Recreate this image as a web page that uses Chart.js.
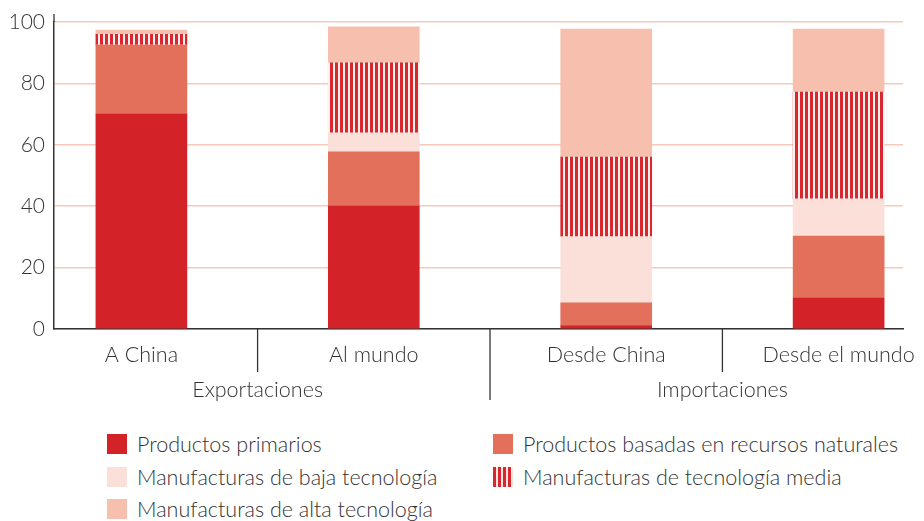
<!DOCTYPE html>
<html>
<head>
<meta charset="utf-8">
<title>Exportaciones e importaciones por intensidad tecnológica</title>
<script src="https://cdn.jsdelivr.net/npm/chart.js@4.4.0/dist/chart.umd.min.js"></script>
<style>
  body { margin: 0; background: #fff; font-family: Lato, "Open Sans", sans-serif; }
  #wrap { position: relative; width: 924px; height: 521px; overflow: hidden; }
  #chartBox { position: absolute; left: 0; top: 0; width: 924px; height: 420px; }
  #legend {
    position: absolute; left: 107px; top: 428px;
    display: grid; grid-template-columns: 386px 420px; grid-auto-rows: 32.5px;
    color: #333; font-size: 21.5px; font-weight: 300;
  }
  .item { display: flex; align-items: center; white-space: nowrap; }
  .box { width: 20px; height: 20px; margin-right: 10px; flex: none; }
</style>
</head>
<body>
<div id="wrap">
  <div id="chartBox"><canvas id="myChart"></canvas></div>
  <div id="legend"></div>
</div>
<script>
// categories and groups
const categories = ["A China", "Al mundo", "Desde China", "Desde el mundo"];
const groups = ["Exportaciones", "Importaciones"];
const groupSizes = [2, 2];

// series (percent of total)
const seriesNames = [
  "Productos primarios",
  "Productos basadas en recursos naturales",
  "Manufacturas de baja tecnología",
  "Manufacturas de tecnología media",
  "Manufacturas de alta tecnología"
];
const primarios = [70.0, 40.0, 1.0, 10.1];
const recursosNaturales = [22.5, 17.7, 7.5, 20.2];
const bajaTec = [0, 6.2, 21.6, 12.1];
const mediaTec = [3.5, 22.8, 25.9, 34.8];
const altaTec = [1.4, 11.7, 41.7, 20.5];

const yTicks = [0, 20, 40, 60, 80, 100];

const colors = ["#d42229", "#e2705a", "#fbe0d9", "hatch", "#f6bfae"];
const hatchRed = "#d9262f";
const labelFont = "Lato, 'Open Sans', sans-serif";

function makeHatch() {
  const c = document.createElement("canvas");
  c.width = 5; c.height = 10;
  const g = c.getContext("2d");
  g.fillStyle = "#fdf1ee";
  g.fillRect(0, 0, 5, 10);
  g.fillStyle = hatchRed;
  g.fillRect(0, 0, 3, 10);
  return g.createPattern(c, "repeat");
}

const hatch = makeHatch();
const allSeries = [primarios, recursosNaturales, bajaTec, mediaTec, altaTec];

const datasets = allSeries.map((vals, s) => ({
  label: seriesNames[s],
  data: vals.map((v, i) => ({ x: i, y: v })),
  backgroundColor: colors[s] === "hatch" ? hatch : colors[s],
  borderWidth: 0,
  barThickness: 91
}));

// dividers under the category axis + group labels
const groupPlugin = {
  id: "groupLabels",
  afterDraw(chart) {
    const { ctx, scales: { x, y } } = chart;
    const base = y.getPixelForValue(0);
    ctx.save();
    ctx.strokeStyle = "#333";
    ctx.lineWidth = 1.3;
    // axis stub above 100
    ctx.beginPath();
    ctx.moveTo(x.left, chart.chartArea.top - 8);
    ctx.lineTo(x.left, chart.chartArea.top);
    ctx.stroke();
    let start = 0;
    groupSizes.forEach((n, gi) => {
      for (let k = 1; k < n; k++) {
        const px = x.getPixelForValue(start + k - 0.5);
        ctx.beginPath();
        ctx.moveTo(px, base);
        ctx.lineTo(px, base + 43);
        ctx.stroke();
      }
      if (gi < groupSizes.length - 1) {
        const px = x.getPixelForValue(start + n - 0.5);
        ctx.beginPath();
        ctx.moveTo(px, base);
        ctx.lineTo(px, base + 71);
        ctx.stroke();
      }
      ctx.fillStyle = "#333";
      ctx.font = "300 21.5px " + labelFont;
      ctx.textAlign = "center";
      ctx.textBaseline = "middle";
      ctx.fillText(groups[gi], x.getPixelForValue(start + (n - 1) / 2), base + 61);
      start += n;
    });
    ctx.restore();
  }
};

const ctx = document.getElementById("myChart").getContext("2d");
window.myChart = new Chart(ctx, {
  type: "bar",
  data: { datasets: datasets },
  options: {
    responsive: true,
    maintainAspectRatio: false,
    animation: false,
    layout: { padding: { top: 22, right: 21, left: 0, bottom: 0 } },
    plugins: {
      legend: { display: false },
      tooltip: { enabled: false }
    },
    scales: {
      x: {
        type: "linear",
        stacked: true,
        offset: false,
        min: -0.376,
        max: 3.277,
        afterBuildTicks: (scale) => { scale.ticks = categories.map((c, i) => ({ value: i })); },
        afterFit: (scale) => {
          scale.height = 91;
          // let the last label hang past the plot edge, as in the original
          scale.paddingLeft = 0;
          scale.paddingRight = 0;
        },
        grid: { display: false, drawTicks: false, offset: false },
        border: { display: true, color: "#333", width: 1.5 },
        ticks: {
          padding: 13,
          maxRotation: 0,
          autoSkip: false,
          color: "#333",
          font: { family: labelFont, size: 21.5, weight: 300 },
          callback: (v) => categories[v]
        }
      },
      y: {
        stacked: true,
        min: 0,
        max: 100,
        afterBuildTicks: (scale) => { scale.ticks = yTicks.map(v => ({ value: v })); },
        afterFit: (scale) => { scale.width = 54; },
        grid: { color: "#f7c9bb", lineWidth: 1.5, drawTicks: false },
        border: { display: true, color: "#333", width: 1.5 },
        ticks: {
          padding: 9,
          color: "#333",
          font: { family: labelFont, size: 21, weight: 300 }
        }
      }
    }
  },
  plugins: [groupPlugin]
});

// legend, built from the series
const legendEl = document.getElementById("legend");
seriesNames.forEach((name, s) => {
  const item = document.createElement("div");
  item.className = "item";
  const box = document.createElement("span");
  box.className = "box";
  if (colors[s] === "hatch") {
    box.style.background = "repeating-linear-gradient(90deg, " + hatchRed + " 0 3px, #fce6e0 3px 5px)";
  } else {
    box.style.background = colors[s];
  }
  const txt = document.createElement("span");
  txt.textContent = name;
  item.appendChild(box);
  item.appendChild(txt);
  legendEl.appendChild(item);
});
</script>
</body>
</html>
